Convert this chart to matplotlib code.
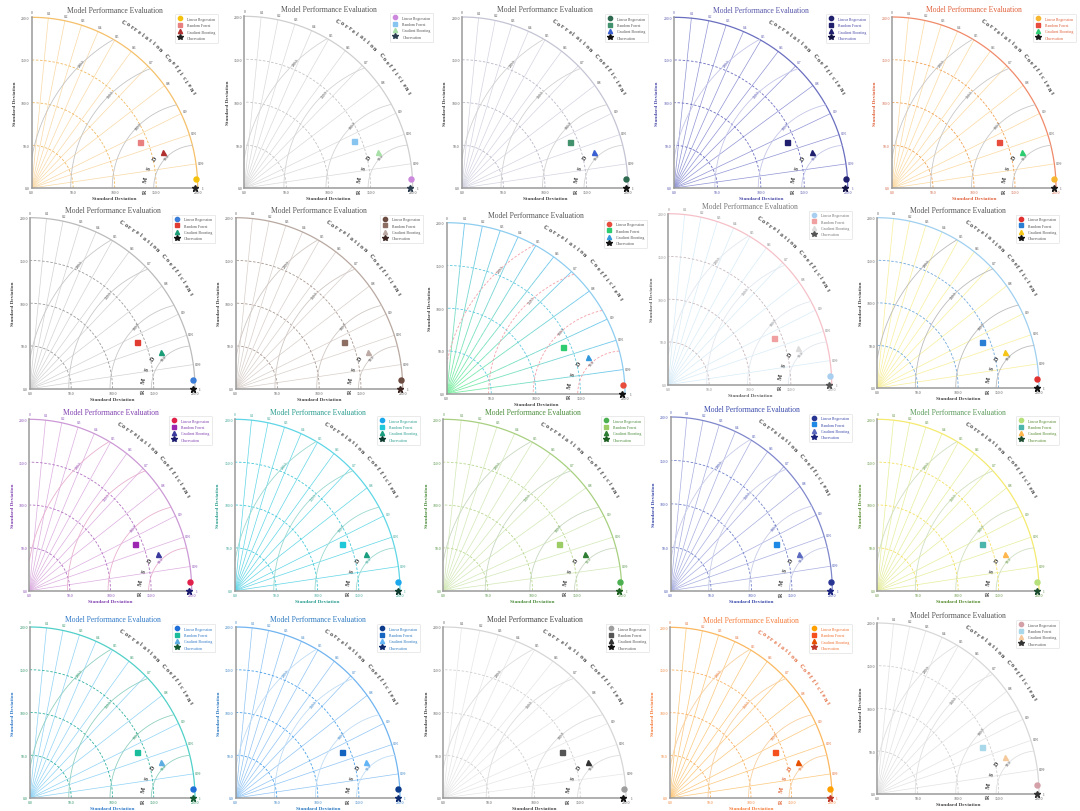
import numpy as np
import matplotlib
matplotlib.use('Agg')
import matplotlib.pyplot as plt
from matplotlib.collections import LineCollection
import matplotlib.colors as mcolors

plt.rcParams['font.family'] = ['Liberation Serif', 'DejaVu Serif']

# ---------------- data ----------------
title_text = "Model Performance Evaluation"
models = ["Linear Regression", "Random Forest", "Gradient Boosting"]
obs_label = "Observation"
std_values = [198.3, 140.8, 164.1]
corr_values = [0.9987, 0.923, 0.966]
obs_std = 197.0
corr_ticks = [0.0, 0.1, 0.2, 0.3, 0.4, 0.5, 0.6, 0.7, 0.8, 0.9, 0.95, 0.99, 1.0]
corr_tick_labels = ["0", "0.1", "0.2", "0.3", "0.4", "0.5", "0.6", "0.7",
                    "0.8", "0.9", "0.95", "0.99", "1"]
std_ticks = [0, 50, 100, 150, 200]
std_tick_labels = ["0.0", "50.0", "100.0", "150.0", "200.0"]
std_arcs = [50, 100, 150]
rms_levels = [50, 100, 150, 200]
rms_labels = ["50.0", "100.0", "150.0", "200.0"]
max_std = 200
corr_axis_title = "Correlation Coefficient"
rmsd_title = "RMSD"
axis_title = "Standard Deviation"
model_markers = ['o', 's', '^']

W, H = 1080, 812

# panel rectangles in pixels: left, right, top, bottom (of the 0..200 box)
rects = [
    (31.7, 197.7, 18.3, 189), (244.3, 412.7, 17.3, 189), (462, 628, 18, 189),
    (674, 847.7, 18.3, 189), (892, 1056, 18, 189),
    (30, 195, 218.7, 389.7), (235.7, 402.7, 218.7, 389.7), (446.7, 625, 223.7, 394.7),
    (668.3, 831.7, 214.7, 385.7), (877.3, 1039, 218.7, 389),
    (29.3, 191.7, 420.3, 591.7), (235, 400, 420.3, 591.7), (443.3, 621.7, 420.3, 591.7),
    (670.7, 832.3, 418, 591.7), (877.3, 1039, 420.3, 591.7),
    (30, 195, 628, 799), (235.7, 400, 628, 799), (443.3, 626, 628, 799),
    (670, 832, 628.3, 799), (877.3, 1039, 624, 794.7),
]


def sty(radial, outer, stdarc, rms, mk, title='#555555', label='#444444', tick='#555555',
        corrlab='#444444', rmslab='#444444', letters='#333333', legend='#555555',
        rms_ls='-', gradient=None):
    return dict(radial=radial, outer=outer, stdarc=stdarc, rms=rms, mk=mk, title=title,
                label=label, tick=tick, corrlab=corrlab, rmslab=rmslab, letters=letters,
                legend=legend, rms_ls=rms_ls, gradient=gradient)


styles = [
    sty('#f9d9a6', '#f5c06a', '#f0b860', '#c4c4c4', ['#f4c20d', '#e88080', '#b03030', '#222222']),
    sty('#dadada', '#cfcfcf', '#c4c4c4', '#d4d4d4', ['#cc88dd', '#88c4f0', '#a8e0a8', '#2c3e50']),
    sty('#d4d4e2', '#c4c4d4', '#b8b8c8', '#d2d2d2', ['#2d6a4f', '#40916c', '#3a5fd0', '#111111']),
    sty('#9094d4', '#6a6ebf', '#6a6ebf', '#c4c6e8', ['#1f1f6e', '#1f1f6e', '#1f1f6e', '#111144'],
        title='#5555aa', label='#4b4ba8', tick='#4b4ba8', corrlab='#4b4ba8', rmslab='#4b4ba8',
        legend='#4b4ba8'),
    sty('#fcd9a0', '#f08a6a', '#f0a050', '#c8c8c8', ['#f7b731', '#e74c3c', '#2ecc71', '#1a1a1a'],
        title='#e0603a', label='#e0603a', tick='#d06040', corrlab='#555555', rmslab='#555555',
        legend='#e0603a'),
    sty('#d2d2d2', '#bbbbbb', '#9a9a9a', '#c8c8c8', ['#3b7dd8', '#e03c31', '#1b9e77', '#111111']),
    sty('#d8cfca', '#b8a8a0', '#a89890', '#d0c8c4', ['#6d4c41', '#8d6e63', '#bcaaa4', '#3e2723']),
    sty(None, '#8ecdf0', '#5ec8e0', '#f4a0a8', ['#e74c3c', '#2ecc71', '#3498db', '#111111'],
        rms_ls=(0, (3, 2)), gradient=('#7cf0a0', '#6ec6f0')),
    sty('#d8ecf8', '#f5c0c8', '#c8b8bc', '#e2e8f0', ['#a8cff0', '#f0a0a0', '#dcdcdc', '#555555'],
        title='#777777', label='#666666', tick='#888888', corrlab='#777777', rmslab='#777777',
        legend='#777777'),
    sty('#f8ef9a', '#9fd0f0', '#6fa8dc', '#bbbbbb', ['#e03030', '#2a7fd4', '#f5c518', '#111111']),
    sty('#dcaee0', '#cc99d6', '#b070c0', '#e8b0d0', ['#e0204a', '#9c27b0', '#3a3a9c', '#1a1a6e'],
        title='#8040b0', label='#8040b0', tick='#8040b0', corrlab='#8040b0', rmslab='#8040b0',
        legend='#8040b0'),
    sty('#60d6e6', '#5fd6e6', '#40c8d8', '#9ad8d0', ['#1aa7ec', '#1ec8d8', '#1a9e80', '#0d3b2e'],
        title='#2a9d8f', label='#2a9d8f', tick='#2a9d8f', corrlab='#2a9d8f', rmslab='#2a9d8f',
        legend='#2a9d8f'),
    sty('#d2e8b6', '#a8d080', '#b8d890', '#c8d8c0', ['#4caf50', '#9ccc65', '#2e7d32', '#1b5e20'],
        title='#4a8c3a', label='#4a8c3a', tick='#4a8c3a', corrlab='#4a8c3a', rmslab='#4a8c3a',
        legend='#4a8c3a'),
    sty('#a8aee0', '#8088cc', '#7080c8', '#c8cce8', ['#283593', '#1e88e5', '#5c6bc0', '#1a237e'],
        title='#3949ab', label='#3949ab', tick='#3949ab', corrlab='#3949ab', rmslab='#3949ab',
        legend='#3949ab'),
    sty('#e6ee9c', '#f5ea70', '#f5e060', '#d0e0c0', ['#b5e07a', '#4db6ac', '#ffb74d', '#1b4d2e'],
        title='#5a9a5a', label='#558b2f', tick='#558b2f', corrlab='#558b2f', rmslab='#558b2f',
        legend='#558b2f'),
    sty('#8fd3f5', '#50d0c8', '#30b0a0', '#90d0c0', ['#1e6fd9', '#1abc9c', '#5dade2', '#145a32'],
        title='#2e78c8', label='#2e78c8', tick='#1e8a5a', corrlab='#1e8a5a', rmslab='#1e8a5a',
        legend='#2e78c8'),
    sty('#90c4f4', '#70b4f0', '#4aa0e8', '#c0dcf4', ['#0d3c8c', '#1565c0', '#64b5f6', '#0d2a6e'],
        title='#2a78c0', label='#2a78c0', tick='#2a78c0', corrlab='#2a78c0', rmslab='#2a78c0',
        legend='#2a78c0'),
    sty('#e6e6e6', '#d6d6d6', '#d0d0d0', '#dddddd', ['#9e9e9e', '#555555', '#333333', '#111111'],
        title='#444444'),
    sty('#fcc87c', '#fbb860', '#f8b060', '#f8d0a0', ['#ffa000', '#f4511e', '#e65100', '#c0392b'],
        title='#f57c3a', label='#f57c3a', tick='#f08030', corrlab='#e06020', rmslab='#e06020',
        letters='#e06030', legend='#f07030'),
    sty('#e2e2e2', '#d8d8d8', '#d0d0d0', '#e0e0e0', ['#d4a0a8', '#a8d8ea', '#f5c99b', '#333333']),
]


def draw_panel(fig, rect, st):
    l, r, t, b = rect
    ax = fig.add_axes([l / W, 1 - b / H, (r - l) / W, (b - t) / H])
    ax.set_xlim(0, max_std)
    ax.set_ylim(0, max_std)
    for s in ['top', 'right']:
        ax.spines[s].set_visible(False)
    for s in ['left', 'bottom']:
        ax.spines[s].set_color('#9a9a9a')
        ax.spines[s].set_linewidth(1.1)
        ax.spines[s].set_zorder(6)
    ax.set_xticks(std_ticks)
    ax.set_xticklabels(std_tick_labels)
    ax.set_yticks(std_ticks)
    ax.set_yticklabels(std_tick_labels)
    ax.tick_params(length=0, pad=1.5, labelsize=2.7, colors=st['tick'])
    ax.set_xlabel(axis_title, fontsize=3.8, fontweight='bold', color=st['label'], labelpad=1.5)
    ax.set_ylabel(axis_title, fontsize=3.8, fontweight='bold', color=st['label'], labelpad=3)
    ax.set_title(title_text, fontsize=5.5, color=st['title'], pad=4)

    # correlation radial lines
    for c in corr_ticks[1:-1]:
        th = np.arccos(c)
        if st['gradient'] is not None:
            cmap = mcolors.LinearSegmentedColormap.from_list('g', list(st['gradient']))
            rr = np.linspace(0, max_std, 30)
            pts = np.column_stack([rr * np.cos(th), rr * np.sin(th)])
            segs = np.stack([pts[:-1], pts[1:]], axis=1)
            lc = LineCollection(segs, colors=cmap(np.linspace(0, 1, len(segs))),
                                linewidths=0.6, zorder=1)
            ax.add_collection(lc)
        else:
            ax.plot([0, max_std * np.cos(th)], [0, max_std * np.sin(th)],
                    color=st['radial'], lw=0.5, zorder=1)

    a = np.linspace(0, np.pi / 2, 300)
    # std arcs
    for s in std_arcs:
        ax.plot(s * np.cos(a), s * np.sin(a), color=st['stdarc'], lw=0.6,
                ls=(0, (3, 2)), zorder=2)
    # outer arc
    ax.plot(max_std * np.cos(a), max_std * np.sin(a), color=st['outer'], lw=0.9,
            clip_on=False, zorder=2)

    # RMS arcs centred on the observation
    phi = np.linspace(0, np.pi, 600)
    for lev, lab in zip(rms_levels, rms_labels):
        x = obs_std + lev * np.cos(phi)
        y = lev * np.sin(phi)
        mask = (np.hypot(x, y) > max_std) | (x < 0)
        x = np.where(mask, np.nan, x)
        y = np.where(mask, np.nan, y)
        ax.plot(x, y, color=st['rms'], lw=0.6, ls=st['rms_ls'], zorder=2)
        ang = np.deg2rad(133)
        ax.text(obs_std + lev * np.cos(ang), lev * np.sin(ang), lab, rotation=52,
                fontsize=2.7, ha='center', va='center', color=st['rmslab'], zorder=4)

    # correlation tick labels
    for c, lab in zip(corr_ticks, corr_tick_labels):
        th = np.arccos(c)
        ax.text(206 * np.cos(th), 206 * np.sin(th), lab, fontsize=2.6, ha='center',
                va='center', color=st['corrlab'], clip_on=False)

    # "Correlation Coefficient" along an arc
    angs = np.linspace(60.4, 29.9, len(corr_axis_title))
    for ch, an in zip(corr_axis_title, angs):
        ra = np.deg2rad(an)
        ax.text(224.5 * np.cos(ra), 224.5 * np.sin(ra), ch, rotation=an - 90,
                fontsize=4.2, fontweight='bold', ha='center', va='center',
                color=st['letters'], clip_on=False, rotation_mode='anchor')

    # "RMSD" along an arc around the observation
    for ch, an in zip(rmsd_title, [183, 170, 157, 144]):
        ra = np.deg2rad(an)
        ax.text(obs_std + 60 * np.cos(ra), 60 * np.sin(ra), ch, rotation=an - 90,
                fontsize=4.4, fontweight='bold', ha='center', va='center',
                color=st['letters'], clip_on=False, rotation_mode='anchor', zorder=4)

    # model points
    for name, sd, cc, mk, col in zip(models, std_values, corr_values, model_markers, st['mk']):
        th = np.arccos(cc)
        ax.plot([sd * np.cos(th)], [sd * np.sin(th)], marker=mk, color=col, ms=3.6,
                ls='none', label=name, zorder=5, clip_on=False)
    ax.plot([obs_std], [0], marker='*', color=st['mk'][3], ms=4.5, ls='none',
            label=obs_label, zorder=7, clip_on=False)

    leg = ax.legend(loc='upper right', bbox_to_anchor=(1.135, 1.03), fontsize=2.8,
                    frameon=True, handlelength=1.2, handletextpad=1.2, borderpad=0.7,
                    labelspacing=0.6, markerscale=0.85, labelcolor=st['legend'],
                    edgecolor='#e2e2e2', framealpha=1.0, fancybox=True)
    leg.get_frame().set_linewidth(0.5)
    leg.set_zorder(10)
    return ax


fig = plt.figure(figsize=(W / 100, H / 100), dpi=100)
for rect, st in zip(rects, styles):
    draw_panel(fig, rect, st)
fig.savefig('out.png', dpi=100)
